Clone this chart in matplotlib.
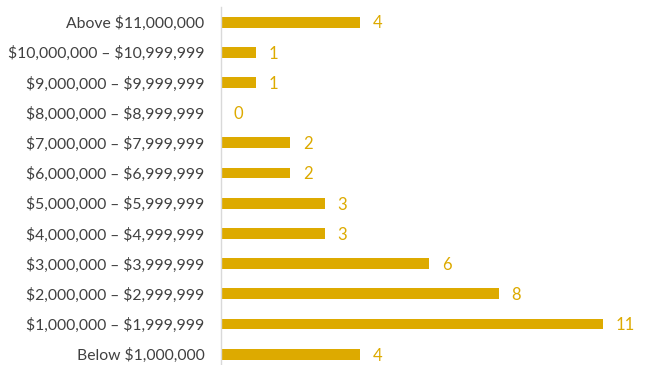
import numpy as np
import matplotlib
matplotlib.use("Agg")
import matplotlib.pyplot as plt

# price bands, bottom to top
bands = [
    "Below $1,000,000",
    "$1,000,000 – $1,999,999",
    "$2,000,000 – $2,999,999",
    "$3,000,000 – $3,999,999",
    "$4,000,000 – $4,999,999",
    "$5,000,000 – $5,999,999",
    "$6,000,000 – $6,999,999",
    "$7,000,000 – $7,999,999",
    "$8,000,000 – $8,999,999",
    "$9,000,000 – $9,999,999",
    "$10,000,000 – $10,999,999",
    "Above $11,000,000",
]
counts = [4, 11, 8, 6, 3, 3, 2, 2, 0, 1, 1, 4]

GOLD = "#DDAA00"
plt.rcParams["font.family"] = ["Lato", "DejaVu Sans"]
plt.rcParams["text.parse_math"] = False

fig = plt.figure(figsize=(6.49, 3.65), dpi=100)
ax = fig.add_axes([0.3405, 0.0, 0.6421, 1 - 7 / 365])

y = np.arange(len(bands))
ax.barh(y, counts, height=0.36, color=GOLD)
for yi, c in zip(y, counts):
    ax.annotate(str(c), (c, yi), xytext=(9, -1), textcoords="offset points",
                va="center", ha="left", color=GOLD, fontsize=12)

ax.set_xlim(0, 12)
ax.set_ylim(-0.36, 11.5)
ax.set_yticks(y)
ax.set_yticklabels(bands, fontsize=11.3, color="#404040")
ax.tick_params(axis="y", length=0, pad=12)
ax.set_xticks([])
for s in ["top", "right", "bottom"]:
    ax.spines[s].set_visible(False)
ax.spines["left"].set_color("#D9D9D9")
ax.spines["left"].set_linewidth(1)

fig.savefig("out.png", dpi=100)
